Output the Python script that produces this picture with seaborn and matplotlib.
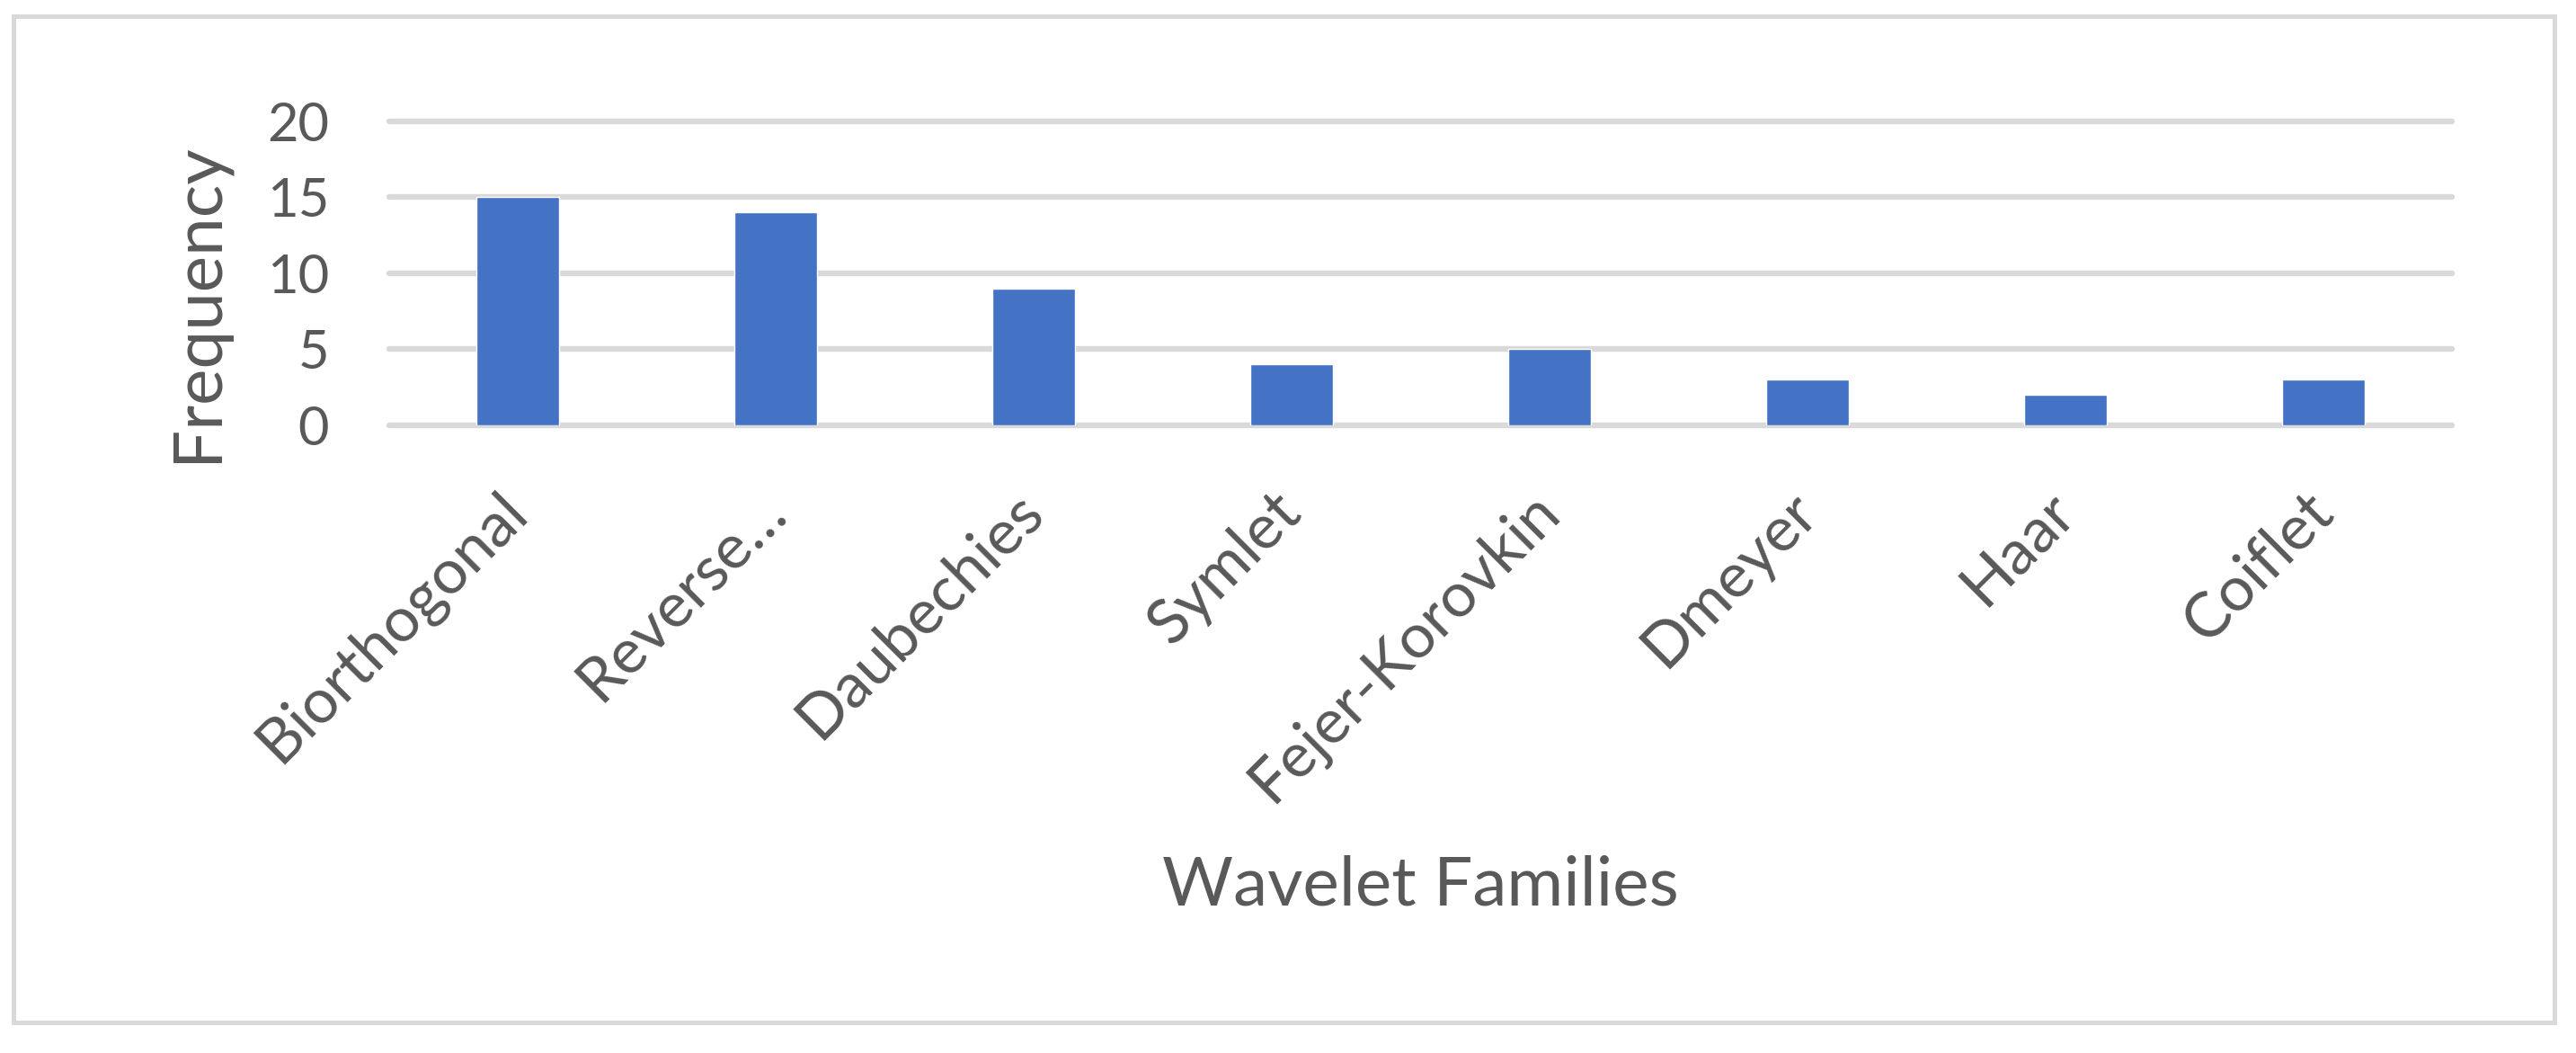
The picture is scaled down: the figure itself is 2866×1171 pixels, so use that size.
import matplotlib
matplotlib.use("Agg")
import matplotlib.pyplot as plt
import matplotlib.patches as patches
import seaborn as sns
import pandas as pd

# wavelet family counts
families = ["Biorthogonal", "Reverse…", "Daubechies", "Symlet",
            "Fejer-Korovkin", "Dmeyer", "Haar", "Coiflet"]
frequency = [15, 14, 9, 4, 5, 3, 2, 3]
y_ticks = [0, 5, 10, 15, 20]

df = pd.DataFrame({"family": families, "freq": frequency})

sns.set_style("white")
plt.rcParams['font.family'] = ['Lato', 'DejaVu Sans']
text_col = "#595959"
grid_col = "#d9d9d9"

fig = plt.figure(figsize=(28.66, 11.71), dpi=100)
ax = fig.add_axes([0.151, 0.596, 0.801, 0.289])

sns.barplot(data=df, x="family", y="freq", color="#4472c4", saturation=1,
            width=0.32, ax=ax)

ax.set_ylim(0, 20)
ax.set_yticks(y_ticks)
ax.set_xlim(-0.5, len(families) - 0.5)
ax.yaxis.grid(True, color=grid_col, linewidth=4.6)
ax.set_axisbelow(True)
for ln in ax.get_ygridlines():
    ln.set_clip_on(False)
for s in ax.spines.values():
    s.set_visible(False)

ax.tick_params(axis="y", length=0, pad=48, labelsize=43, labelcolor=text_col)
ax.tick_params(axis="x", length=0, pad=61, labelsize=50, labelcolor=text_col)
plt.setp(ax.get_xticklabels(), rotation=45, ha="right", va="center",
         rotation_mode="anchor")

ax.set_xlabel("Wavelet Families", fontsize=55, color=text_col)
ax.set_ylabel("Frequency", fontsize=55, color=text_col)
ax.xaxis.set_label_coords(0.5, -1.41)
ax.yaxis.set_label_coords(-0.078, 0.405)

# light grey frame round the whole chart
fig.patches.append(patches.Rectangle((0.0051, 0.029), 0.9866, 0.956,
                                     transform=fig.transFigure, fill=False,
                                     edgecolor=grid_col, lw=3.6))

fig.savefig("out.png", dpi=100)
